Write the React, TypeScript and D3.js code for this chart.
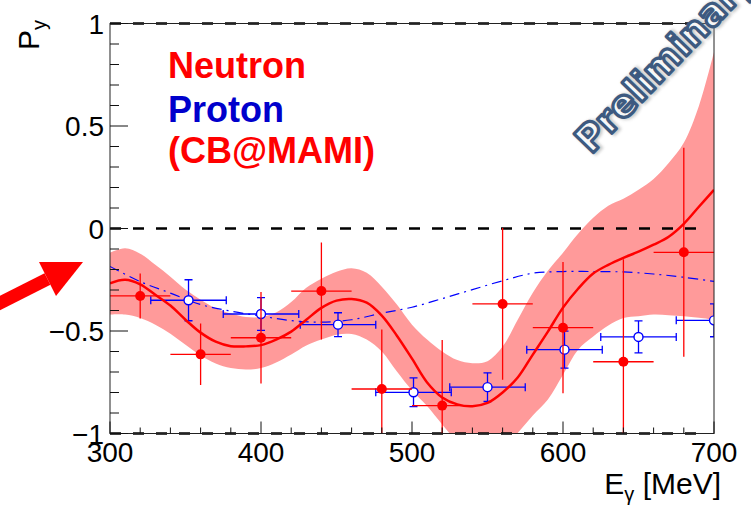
import React from "react";
import * as d3 from "d3";

// ---- data -----------------------------------------------------------------
// Energy grid (MeV) on which the neutron fit and its error band are given
const fitEnergies = [
  300, 310, 320, 330, 340, 350, 360, 370, 380, 390, 400, 410, 420, 430, 440,
  450, 460, 470, 480, 490, 500, 510, 520, 530, 540, 550, 560, 570, 580, 590,
  600, 610, 620, 630, 640, 650, 660, 670, 680, 690, 700,
];
const neutronFit = [
  -0.267, -0.25, -0.272, -0.323, -0.376, -0.445, -0.508, -0.552, -0.574,
  -0.575, -0.569, -0.542, -0.503, -0.445, -0.387, -0.352, -0.344, -0.362,
  -0.425, -0.523, -0.635, -0.751, -0.824, -0.858, -0.867, -0.851, -0.8,
  -0.727, -0.615, -0.503, -0.386, -0.294, -0.22, -0.177, -0.143, -0.113,
  -0.079, -0.04, 0.023, 0.106, 0.189,
];
const neutronBandHigh = [
  -0.118, -0.096, -0.123, -0.177, -0.235, -0.298, -0.347, -0.389, -0.415,
  -0.432, -0.432, -0.41, -0.359, -0.289, -0.245, -0.211, -0.194, -0.216,
  -0.284, -0.371, -0.469, -0.542, -0.6, -0.642, -0.657, -0.647, -0.576,
  -0.445, -0.313, -0.206, -0.118, -0.026, 0.052, 0.111, 0.145, 0.189, 0.242,
  0.32, 0.418, 0.598, 0.861,
];
const neutronBandLow = [
  -0.42, -0.42, -0.437, -0.469, -0.513, -0.567, -0.62, -0.659, -0.681, -0.688,
  -0.681, -0.654, -0.615, -0.571, -0.542, -0.518, -0.515, -0.542, -0.6,
  -0.698, -0.79, -0.866, -0.956, -1.039, -1.088, -1.102, -1.078, -0.998,
  -0.912, -0.834, -0.713, -0.591, -0.527, -0.473, -0.437, -0.428, -0.42,
  -0.423, -0.428, -0.435, -0.444,
];

// Proton model curve
const protonModelEnergies = [
  300, 320, 340, 360, 380, 400, 420, 440, 460, 480, 500, 520, 540, 560, 580,
  600, 620, 640, 660, 680, 700,
];
const protonModel = [
  -0.185, -0.259, -0.315, -0.371, -0.403, -0.427, -0.449, -0.457, -0.445,
  -0.413, -0.384, -0.342, -0.298, -0.255, -0.218, -0.21, -0.21, -0.212,
  -0.222, -0.238, -0.258,
];

// Neutron measurements
const neutronE = [320, 360, 400, 440, 480, 520, 560, 600, 640, 680];
const neutronPy = [
  -0.329, -0.614, -0.533, -0.305, -0.783, -0.864, -0.368, -0.484, -0.65,
  -0.116,
];
const neutronPyErr = [0.11, 0.15, 0.223, 0.237, 0.29, 0.32, 0.37, 0.32, 0.5, 0.51];
const neutronEErr = [20, 20, 20, 20, 20, 20, 20, 20, 20, 20];

// Proton measurements
const protonE = [352, 400, 451, 501, 550, 601, 650, 700];
const protonPy = [-0.35, -0.417, -0.469, -0.799, -0.774, -0.591, -0.529, -0.448];
const protonPyErr = [0.1, 0.08, 0.058, 0.07, 0.07, 0.09, 0.078, 0.08];
const protonEErr = [25, 25, 25, 25, 25, 25, 25, 25];

// Axis ticks
const xMajorTicks = [300, 400, 500, 600, 700];
const yMajorTicks = [-1, -0.5, 0, 0.5, 1];
const yTickLabels = ["\u22121", "\u22120.5", "0", "0.5", "1"];
const xTickLabels = ["300", "400", "500", "600", "700"];
const referenceLines = [1, 0, -1];

// ---- layout ---------------------------------------------------------------
const W = 751;
const H = 505;
const plot = { left: 110, right: 714, top: 23.5, bottom: 433.5 };
const FONT = "'Liberation Sans', Arial, Helvetica, sans-serif";
const RED = "#ff0000";
const BLUE = "#0000ff";
const BAND = "#ff9a9a";

export default function App() {
  const x = d3.scaleLinear().domain([300, 700]).range([plot.left, plot.right]);
  const y = d3.scaleLinear().domain([-1, 1]).range([plot.bottom, plot.top]);

  const band = d3
    .area<number>()
    .x((_, i) => x(fitEnergies[i]))
    .y0((_, i) => y(neutronBandLow[i]))
    .y1((_, i) => y(neutronBandHigh[i]))
    .curve(d3.curveCatmullRom);

  const fitLine = d3
    .line<number>()
    .x((_, i) => x(fitEnergies[i]))
    .y((d) => y(d))
    .curve(d3.curveCatmullRom);

  const protonLine = d3
    .line<number>()
    .x((_, i) => x(protonModelEnergies[i]))
    .y((d) => y(d))
    .curve(d3.curveCatmullRom);

  const xMinor = x.ticks(20);
  const yMinor = y.ticks(20);

  const cap = 4;

  // arrow geometry (annotation left of the axis)
  const tip: [number, number] = [83, 262];
  const headA: [number, number] = [39, 262];
  const headB: [number, number] = [56, 296];
  const headMid: [number, number] = [(headA[0] + headB[0]) / 2, (headA[1] + headB[1]) / 2];

  return (
    <svg
      width={W}
      height={H}
      viewBox={`0 0 ${W} ${H}`}
      style={{ position: "absolute", left: 0, top: 0, background: "#fff" }}
    >
      <defs>
        <clipPath id="plotClip">
          <rect
            x={plot.left}
            y={plot.top}
            width={plot.right - plot.left}
            height={plot.bottom - plot.top}
          />
        </clipPath>
        <filter id="stampShadow" x="-20%" y="-20%" width="140%" height="140%">
          <feGaussianBlur stdDeviation="1.5" />
        </filter>
      </defs>

      <rect width={W} height={H} fill="#fff" />

      <g clipPath="url(#plotClip)">
        <path d={band(neutronFit) ?? ""} fill={BAND} stroke="none" />
      </g>

      {/* dashed reference lines */}
      {referenceLines.map((v) => (
        <line
          key={"ref" + v}
          x1={plot.left}
          x2={plot.right - 6}
          y1={y(v)}
          y2={y(v)}
          stroke="#000"
          strokeWidth={2.4}
          strokeDasharray="11,12"
        />
      ))}

      <g clipPath="url(#plotClip)">
        <path
          d={protonLine(protonModel) ?? ""}
          fill="none"
          stroke={BLUE}
          strokeWidth={1.2}
          strokeDasharray="10,5,2,5"
        />

        {/* proton points */}
        {protonE.map((e, i) => {
          const cx = x(e);
          const cy = y(protonPy[i]);
          const xl = x(e - protonEErr[i]);
          const xr = x(e + protonEErr[i]);
          const yt = y(protonPy[i] + protonPyErr[i]);
          const yb = y(protonPy[i] - protonPyErr[i]);
          return (
            <g key={"p" + i} stroke={BLUE} strokeWidth={1.3} fill="none">
              <line x1={xl} x2={xr} y1={cy} y2={cy} />
              <line x1={xl} x2={xl} y1={cy - cap} y2={cy + cap} />
              <line x1={xr} x2={xr} y1={cy - cap} y2={cy + cap} />
              <line x1={cx} x2={cx} y1={yt} y2={yb} />
              <line x1={cx - cap} x2={cx + cap} y1={yt} y2={yt} />
              <line x1={cx - cap} x2={cx + cap} y1={yb} y2={yb} />
              <circle cx={cx} cy={cy} r={4.5} fill="#fff" strokeWidth={1.4} />
            </g>
          );
        })}

        {/* neutron points */}
        {neutronE.map((e, i) => {
          const cx = x(e);
          const cy = y(neutronPy[i]);
          return (
            <g key={"n" + i} stroke={RED} strokeWidth={1.3}>
              <line
                x1={x(e - neutronEErr[i])}
                x2={x(e + neutronEErr[i])}
                y1={cy}
                y2={cy}
              />
              <line
                x1={cx}
                x2={cx}
                y1={y(neutronPy[i] + neutronPyErr[i])}
                y2={y(neutronPy[i] - neutronPyErr[i])}
              />
              <circle cx={cx} cy={cy} r={5} fill={RED} stroke="none" />
            </g>
          );
        })}

        <path
          d={fitLine(neutronFit) ?? ""}
          fill="none"
          stroke={RED}
          strokeWidth={2.5}
        />
      </g>

      {/* frame */}
      <rect
        x={plot.left}
        y={plot.top}
        width={plot.right - plot.left}
        height={plot.bottom - plot.top}
        fill="none"
        stroke="#222"
        strokeWidth={1}
      />

      {/* y ticks */}
      {yMinor.map((t) => (
        <line
          key={"ym" + t}
          x1={plot.left}
          x2={plot.left + (yMajorTicks.includes(t) ? 18 : 9)}
          y1={y(t)}
          y2={y(t)}
          stroke="#111"
          strokeWidth={1}
        />
      ))}
      {/* x ticks */}
      {xMinor.map((t) => (
        <line
          key={"xm" + t}
          x1={x(t)}
          x2={x(t)}
          y1={plot.bottom}
          y2={plot.bottom - (xMajorTicks.includes(t) ? 12 : 6)}
          stroke="#111"
          strokeWidth={1}
        />
      ))}

      {/* tick labels */}
      <g fontFamily={FONT} fontSize={28} fill="#000">
        {yMajorTicks.map((t, i) => (
          <text key={"yl" + t} x={plot.left - 6} y={y(t) + 10} textAnchor="end">
            {yTickLabels[i]}
          </text>
        ))}
        {xMajorTicks.map((t, i) => (
          <text key={"xl" + t} x={x(t)} y={462} textAnchor="middle">
            {xTickLabels[i]}
          </text>
        ))}
      </g>

      {/* axis titles */}
      <text
        fontFamily={FONT}
        fontSize={30}
        textAnchor="end"
        x={721}
        y={494}
        fill="#000"
      >
        E
        <tspan fontSize={20} dy={7}>
          γ
        </tspan>
        <tspan dy={-7}> [MeV]</tspan>
      </text>
      <text
        fontFamily={FONT}
        fontSize={30}
        textAnchor="end"
        transform="translate(39,20) rotate(-90)"
        fill="#000"
      >
        P
        <tspan fontSize={20} dy={7}>
          y
        </tspan>
      </text>

      {/* legend */}
      <g fontFamily={FONT} fontSize={36} fontWeight="bold">
        <text x={168} y={78} fill={RED}>
          Neutron
        </text>
        <text x={168} y={122} fill="#0000cc">
          Proton
        </text>
        <text x={168} y={163} fill={RED}>
          (CB@MAMI)
        </text>
      </g>

      {/* stamp */}
      <g
        transform="translate(591,155) rotate(-46)"
        fontFamily="'DejaVu Sans', sans-serif"
        fontSize={37}
        fontWeight="bold"
      >
        <text
          x={1.5}
          y={1.5}
          fill="none"
          stroke="#9a9a9a"
          strokeWidth={4}
          filter="url(#stampShadow)"
          opacity={0.55}
        >
          Preliminary
        </text>
        <text
          fill="#f7f7f7"
          stroke="#3d5a80"
          strokeWidth={3.2}
          strokeLinejoin="round"
        >
          Preliminary
        </text>
      </g>

      {/* arrow */}
      <line
        x1={-12}
        y1={309}
        x2={headMid[0]}
        y2={headMid[1]}
        stroke={RED}
        strokeWidth={13}
      />
      <polygon points={[tip, headA, headB].map((p) => p.join(",")).join(" ")} fill={RED} />
    </svg>
  );
}
